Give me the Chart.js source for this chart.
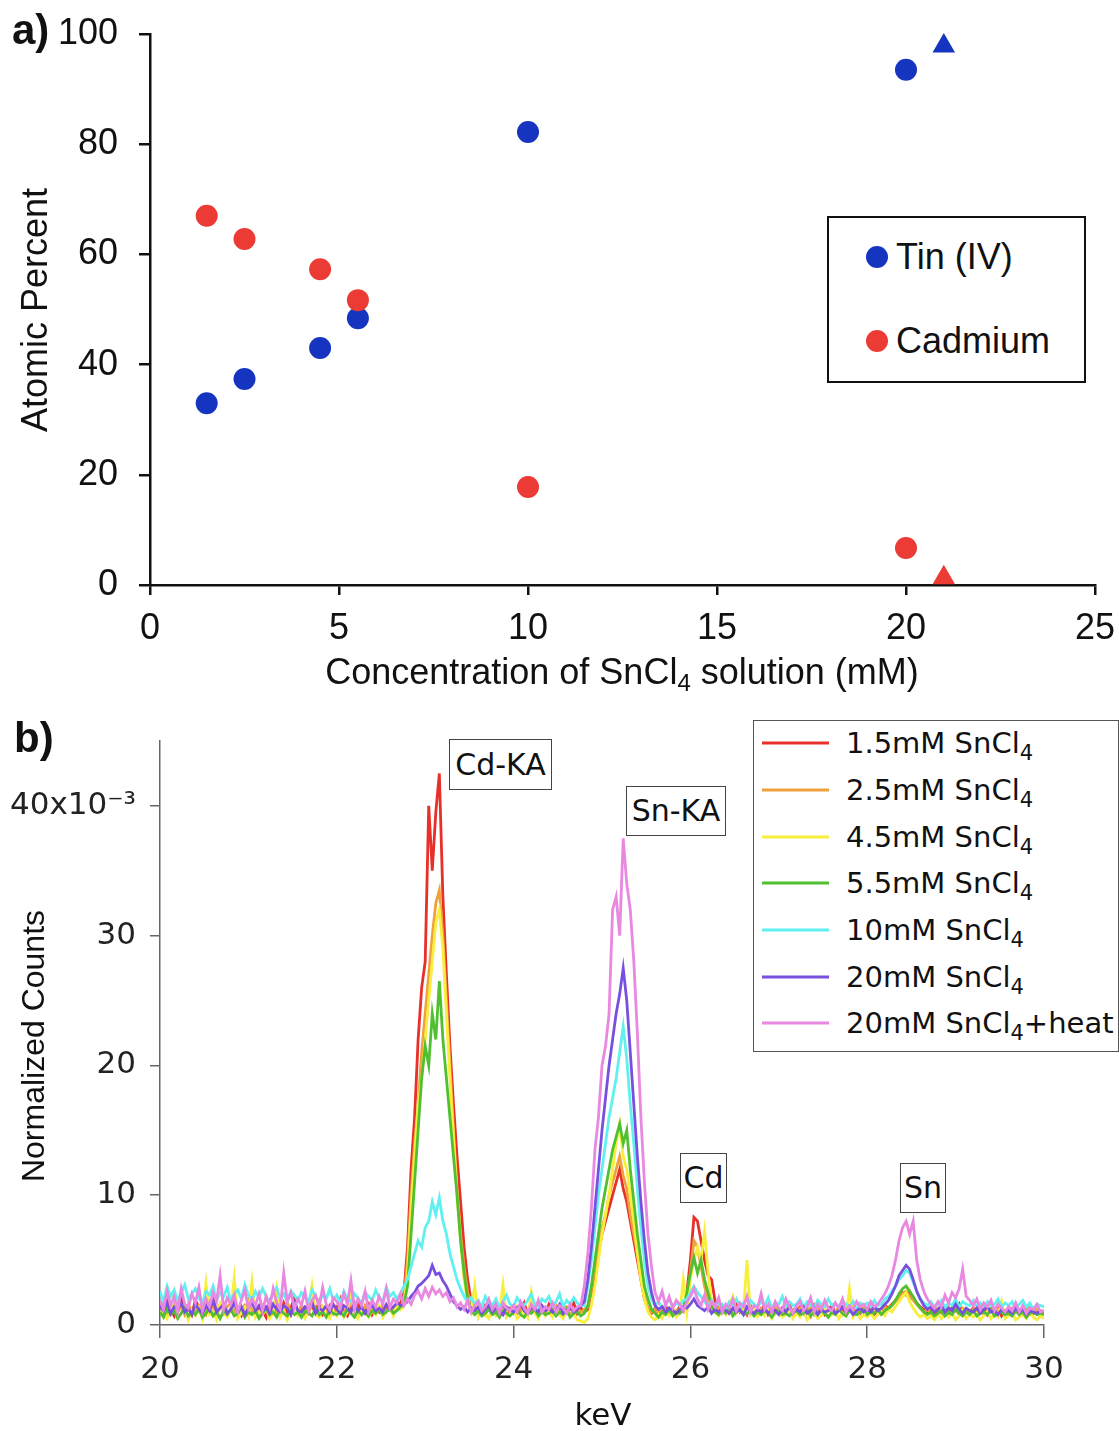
<!DOCTYPE html>
<html>
<head>
<meta charset="utf-8">
<title>SnCl4 films: composition and EDX spectra</title>
<script src="https://cdn.jsdelivr.net/npm/chart.js@4.4.1/dist/chart.umd.min.js"></script>
<style>
  html, body { margin: 0; padding: 0; background: #fff; overflow: hidden; }
  #figure { position: relative; width: 1119px; height: 1431px; overflow: hidden; background: #fff; }
  #figure canvas { position: absolute; left: 0; }
  .txt { position: absolute; white-space: nowrap; line-height: 1; color: #111; }
  .fa { font-family: 'Liberation Sans', Arial, sans-serif; }
  .fb { font-family: 'DejaVu Sans', sans-serif; }
  .mid { transform: translate(-50%, -50%); }
  .midY { transform: translateY(-50%); }
  .vert { transform: translate(-50%, -50%) rotate(-90deg); }
  .sub { position: relative; }
  .box { position: absolute; box-sizing: border-box; background: #fff; }
  .dot { position: absolute; width: 22px; height: 22px; border-radius: 50%; transform: translate(-50%, -50%); }
  .swatch { position: absolute; height: 3px; width: 67px; transform: translateY(-50%); }
</style>
</head>
<body>
<div id="figure">
  <canvas id="compChart" width="1119" height="700" style="top:0"></canvas>
  <canvas id="spectraChart" width="1119" height="731" style="top:700px"></canvas>

  <!-- panel a labels -->
  <div class="txt fa" style="left:12px; top:9px; font-size:42px; font-weight:bold;">a)</div>
  <div class="txt fa vert" style="left:35px; top:310px; font-size:36px;">Atomic Percent</div>
  <div class="txt fa mid" style="left:622px; top:672px; font-size:36px;">Concentration of SnCl<span class="sub" style="font-size:24px; top:7px;">4</span> solution (mM)</div>
  <div class="box" style="left:827px; top:216px; width:259px; height:167px; border:2.5px solid #111;"></div>

  <!-- panel b labels -->
  <div class="txt fa" style="left:14px; top:717px; font-size:42px; font-weight:bold;">b)</div>
  <div class="txt fa vert" style="left:33px; top:1046px; font-size:32px;">Normalized Counts</div>
  <div class="txt fb mid" style="left:603px; top:1414px; font-size:31px;">keV</div>
  <div class="box" style="left:753px; top:720px; width:366px; height:332px; border:1.5px solid #555;"></div>
</div>

<script>
// ---- panel a: film composition vs. SnCl4 concentration ----
const concentration = [1.5, 2.5, 4.5, 5.5, 10, 20];
const tinPercent = [33.0, 37.4, 43.0, 48.4, 82.2, 93.5];
const cadmiumPercent = [67.0, 62.8, 57.3, 51.7, 17.8, 6.7];
const heatedConcentration = [21];
const heatedTinPercent = [97.8];
const heatedCadmiumPercent = [1.3];
const compositionTicksX = [0, 5, 10, 15, 20, 25];
const compositionTicksY = [0, 20, 40, 60, 80, 100];

// ---- panel b: EDX spectra, one channel every 0.04 keV from 20 keV ----
const energyStart = 20;
const energyStep = 0.04;

const spectrum15 = [
  1.6,0.9,1.8,1.2,0.7,1.5,2.1,1.0,1.3,0.8,
  1.9,1.4,0.6,1.7,1.1,2.2,0.9,1.3,1.6,0.8,
  1.2,1.9,1.0,0.7,1.5,1.3,2.0,0.9,1.4,1.1,
  0.6,1.8,1.2,1.5,0.8,1.7,1.0,1.3,2.1,0.9,
  1.2,0.7,1.6,1.4,1.0,1.8,0.8,1.1,1.5,0.9,
  1.3,2.0,1.0,0.7,1.4,1.2,1.7,0.9,1.1,1.6,
  0.8,1.3,1.0,1.5,1.2,1.4,1.1,1.8,1.6,2.5,
  6.0,12.0,16.0,22.0,26.0,28.0,40.0,35.0,39.5,42.5,
  33.0,27.0,21.5,17.0,13.0,9.5,6.0,3.5,1.8,1.4,
  1.1,0.8,1.5,1.2,0.9,1.6,1.0,1.3,0.7,1.2,
  1.5,0.9,1.1,1.7,0.8,1.3,1.0,1.4,1.2,0.9,
  1.6,1.1,0.8,1.3,1.5,1.0,1.2,1.7,0.9,1.3,
  1.0,1.2,2.5,4.0,5.5,7.0,8.0,9.0,10.0,11.0,
  12.0,10.5,9.5,8.0,6.5,5.0,3.5,2.0,1.2,0.9,
  1.3,0.8,1.1,1.5,0.9,1.2,1.0,1.4,1.2,2.5,
  5.0,8.3,8.0,6.5,5.0,3.8,3.5,1.8,1.2,1.0,
  1.4,0.9,1.2,1.6,1.0,1.3,0.8,1.5,1.1,0.9,
  1.2,1.5,0.8,1.1,1.4,0.9,1.3,1.0,1.6,0.8,
  1.1,1.4,0.9,1.2,0.7,1.5,1.0,1.3,0.8,1.2,
  1.5,0.9,1.1,1.3,0.8,1.4,1.0,1.2,0.9,1.3,
  1.0,1.4,0.8,1.2,1.1,1.5,1.3,1.6,1.9,2.2,
  2.5,2.3,2.6,2.0,1.7,1.4,1.2,0.9,1.1,0.8,
  1.2,1.0,1.4,0.9,1.3,1.1,1.6,0.8,1.2,1.0,
  1.3,0.9,1.1,1.4,0.8,1.2,1.0,1.3,0.7,1.1,
  1.2,0.9,1.4,1.0,0.8,1.3,1.1,0.9,1.2,1.0,
  1.1
];

const spectrum25 = [
  1.3,1.7,0.9,1.2,1.9,1.0,1.4,0.8,1.6,1.1,
  1.0,1.5,1.2,0.8,1.8,1.3,1.0,1.6,0.9,1.4,
  1.7,1.1,0.8,1.4,1.2,1.9,1.0,1.3,0.7,1.5,
  1.2,1.0,1.6,0.9,1.4,1.1,1.8,0.8,1.3,1.0,
  1.5,1.2,0.9,1.7,1.1,1.0,1.4,1.2,0.8,1.6,
  1.1,1.4,0.9,1.3,1.6,1.0,1.2,0.8,1.5,1.1,
  1.3,0.9,1.2,1.6,1.0,1.4,1.2,1.5,1.3,2.0,
  5.0,10.0,14.0,17.0,21.0,24.0,27.0,30.0,32.5,33.5,
  30.0,25.0,20.0,15.0,10.5,7.0,4.5,2.5,1.5,1.2,
  1.0,1.3,0.8,1.4,1.1,0.9,1.5,1.2,1.0,1.3,
  0.9,1.4,1.1,1.2,0.8,1.5,1.0,1.3,1.1,0.9,
  1.3,1.0,1.5,0.9,1.2,1.4,0.8,1.1,1.3,1.0,
  1.2,1.4,2.8,4.5,6.0,7.5,8.5,10.0,11.0,12.0,
  13.0,11.5,10.5,8.5,7.0,5.5,3.8,2.2,1.3,1.0,
  1.2,0.9,1.4,1.0,1.3,0.8,1.1,1.2,1.0,2.0,
  4.0,6.5,6.0,4.5,3.0,2.0,1.2,1.0,1.3,0.9,
  1.1,1.4,0.8,1.2,1.0,1.5,0.9,1.3,1.1,0.8,
  1.3,1.0,1.2,0.9,1.5,1.1,0.8,1.4,1.0,1.2,
  0.9,1.3,1.1,1.0,1.4,0.8,1.2,1.5,0.9,1.1,
  1.2,1.0,1.4,0.8,1.1,1.3,0.9,1.2,1.0,1.4,
  1.1,0.9,1.3,1.2,1.0,1.4,1.2,1.5,1.8,2.1,
  2.4,2.6,2.2,1.9,1.6,1.3,1.0,1.2,0.9,1.1,
  1.3,0.9,1.1,1.4,1.0,1.2,0.8,1.3,1.1,0.9,
  1.2,1.0,1.4,0.8,1.1,1.3,0.9,1.2,1.0,1.1,
  0.9,1.3,1.0,1.2,0.8,1.1,1.4,1.0,1.2,0.9,
  1.0
];

const spectrum45 = [
  0.8,1.2,0.5,1.0,2.4,0.6,0.9,1.5,0.4,1.1,
  0.7,1.3,0.5,3.2,0.8,1.0,0.4,1.6,0.9,0.6,
  1.2,3.6,0.5,0.9,1.4,0.7,3.3,0.6,1.0,0.8,
  1.3,0.5,0.9,2.8,0.6,1.1,0.4,1.0,1.5,0.7,
  0.9,0.5,1.2,3.0,0.8,0.6,1.4,0.9,0.5,1.1,
  0.7,1.3,0.6,1.0,2.6,0.8,0.5,1.2,0.9,0.6,
  1.1,0.8,1.5,0.6,1.0,1.3,0.7,1.6,1.2,1.5,
  4.0,9.0,13.0,17.0,19.0,22.0,25.0,28.0,31.0,32.0,
  29.0,24.0,19.0,14.5,10.0,6.5,3.5,1.8,1.0,3.0,
  0.6,1.2,0.8,0.5,1.4,0.7,1.0,3.1,0.6,0.9,
  1.3,0.5,0.8,1.1,0.6,2.5,0.9,0.5,1.2,0.7,
  1.0,0.6,1.3,0.8,0.5,1.1,0.7,0.9,0.4,0.3,
  0.2,0.5,1.5,3.0,5.0,7.0,8.5,10.0,12.0,14.0,
  15.5,13.0,12.0,10.0,8.0,5.5,3.5,2.0,1.0,0.6,
  0.4,0.8,0.5,1.1,0.7,1.3,0.6,0.9,3.5,1.0,
  3.5,5.0,6.0,5.0,7.2,4.0,1.8,1.0,0.7,1.2,
  0.8,1.5,2.2,0.9,1.3,1.0,5.0,0.8,1.2,0.6,
  1.0,0.7,1.3,0.5,0.9,1.1,0.6,0.8,1.2,0.5,
  0.9,0.6,1.1,0.4,0.8,1.0,0.5,0.7,1.2,0.6,
  0.8,1.0,0.5,0.9,0.7,2.8,0.6,1.0,0.5,0.8,
  0.6,0.9,0.5,0.8,1.0,0.7,1.2,1.0,1.4,1.8,
  2.2,2.5,1.8,1.3,0.9,0.6,0.8,0.5,0.7,0.4,
  0.8,0.5,1.0,0.6,0.9,0.4,0.7,1.1,0.5,0.8,
  0.6,0.9,0.4,0.7,1.0,0.5,0.8,0.6,1.8,0.5,
  0.7,0.9,0.4,0.6,0.8,0.5,0.9,0.6,0.4,0.7,
  0.5
];

const spectrum55 = [
  1.0,0.6,1.3,0.8,1.1,0.5,0.9,1.4,0.7,1.0,
  0.8,1.2,0.6,0.9,1.3,0.7,1.0,0.5,1.1,0.8,
  1.2,0.7,0.9,1.4,0.6,1.0,0.8,1.1,0.5,0.9,
  1.3,0.8,1.0,0.6,1.2,0.9,0.7,1.1,0.8,1.0,
  0.6,1.1,0.9,0.7,1.3,0.8,1.0,0.6,1.2,0.9,
  0.8,1.0,0.7,1.2,0.9,0.6,1.1,0.8,1.0,0.7,
  1.1,0.9,1.2,0.8,1.0,1.3,0.9,1.1,1.4,1.6,
  3.0,7.0,11.0,15.0,19.0,21.5,20.0,24.0,22.0,26.5,
  22.0,19.0,16.0,13.0,10.0,6.5,4.0,2.0,1.1,0.8,
  1.1,0.7,0.9,1.2,0.8,1.0,0.6,1.1,0.9,0.7,
  1.0,1.3,0.8,0.6,1.1,0.9,1.2,0.7,1.0,0.8,
  0.9,1.1,0.7,1.0,0.8,1.2,0.6,0.9,1.0,0.7,
  0.9,1.5,3.0,5.0,7.0,9.0,10.5,12.0,13.5,14.5,
  15.5,14.0,15.0,12.0,9.5,7.0,5.0,3.0,2.0,1.2,
  0.9,0.6,1.0,0.8,1.2,0.7,1.0,0.9,1.2,2.5,
  4.0,5.2,4.0,5.0,3.5,2.5,1.5,1.0,0.8,1.1,
  0.9,1.3,0.7,1.0,1.2,0.8,0.9,1.1,0.7,1.0,
  0.8,1.1,0.9,0.6,1.0,1.2,0.8,0.9,0.7,1.0,
  1.1,0.8,0.9,1.2,0.7,1.0,0.8,1.1,0.9,0.6,
  1.0,0.8,1.2,0.9,0.7,1.1,0.9,0.8,1.0,1.2,
  0.8,1.0,0.9,1.2,0.8,1.1,1.3,1.5,1.9,2.4,
  2.8,3.0,2.6,2.2,1.7,1.3,1.0,0.8,1.0,0.7,
  0.9,1.1,0.7,1.0,0.8,1.2,0.9,0.7,1.0,0.8,
  1.1,0.7,0.9,1.0,0.8,1.2,0.7,0.9,1.0,0.8,
  0.9,0.7,1.1,0.8,1.0,0.6,0.9,1.0,0.8,0.9,
  0.8
];

const spectrum10 = [
  2.6,1.8,3.0,2.2,2.7,1.9,2.5,3.1,2.0,2.4,
  2.8,2.1,1.7,2.6,2.3,3.0,1.9,2.5,2.2,2.9,
  1.8,2.4,2.7,2.0,3.1,2.3,1.9,2.6,2.1,2.8,
  2.2,1.7,2.5,2.9,2.0,2.4,1.8,2.6,2.3,1.9,
  2.5,2.1,1.8,2.7,2.2,1.6,2.4,2.0,2.8,1.9,
  2.3,1.7,2.6,2.0,1.8,2.4,2.1,1.6,2.5,2.2,
  1.9,2.7,2.1,1.8,2.9,2.2,2.5,2.0,2.4,3.0,
  3.5,4.5,5.5,6.5,6.0,7.5,8.0,9.5,8.5,9.8,
  8.0,7.0,5.5,4.5,3.5,2.8,2.2,1.8,2.1,1.6,
  1.9,1.4,2.2,1.7,1.5,2.0,1.3,1.8,2.3,1.6,
  1.4,2.1,1.7,1.5,1.9,2.4,1.6,1.3,2.0,1.8,
  2.2,1.5,1.8,2.4,1.4,1.9,1.6,2.1,1.7,1.5,
  1.5,3.0,5.0,7.5,10.0,12.0,14.0,16.0,17.5,19.0,
  21.0,23.0,20.5,17.0,14.0,10.5,7.5,5.0,3.0,2.0,
  1.5,1.8,1.3,1.6,2.0,1.4,1.7,1.5,1.9,2.0,
  2.5,3.0,2.5,2.2,1.8,1.5,1.9,1.4,1.7,1.6,
  1.3,1.8,1.5,2.0,1.4,1.7,1.2,1.9,1.6,1.4,
  1.8,1.5,2.1,1.3,1.7,1.6,2.2,1.4,1.8,1.5,
  1.6,2.0,1.4,1.8,1.5,1.3,1.9,1.6,1.4,2.0,
  1.5,1.7,1.3,1.9,1.6,1.4,1.8,1.2,1.7,1.5,
  1.7,1.4,1.9,1.5,1.6,2.0,2.2,2.6,3.0,3.5,
  3.8,4.2,4.0,3.3,2.6,2.0,1.7,1.5,1.8,1.4,
  1.6,1.9,1.3,1.7,1.5,2.0,1.4,1.8,1.6,1.5,
  1.9,1.4,1.7,1.3,1.8,1.5,1.6,2.0,1.4,1.7,
  1.5,1.8,1.3,1.6,1.9,1.4,1.7,1.2,1.6,1.5,
  1.4
];

const spectrum20 = [
  1.5,1.1,1.8,0.9,1.4,1.2,1.7,1.0,1.3,0.8,
  1.6,1.2,0.9,1.5,1.1,1.9,1.0,1.3,1.6,0.9,
  1.2,1.7,1.0,1.4,0.8,1.3,1.8,1.1,1.5,1.0,
  1.4,0.9,1.6,1.2,1.0,1.5,1.3,0.8,1.7,1.1,
  1.0,1.4,1.2,1.8,0.9,1.3,1.1,1.5,1.0,1.6,
  1.2,0.9,1.5,1.3,1.0,1.7,1.1,1.4,0.9,1.3,
  1.5,1.1,1.3,1.0,1.6,1.2,1.4,1.7,1.5,1.6,
  1.8,2.2,2.5,3.0,3.2,3.5,3.8,4.6,3.9,4.0,
  3.4,3.0,2.4,1.8,1.5,1.2,1.4,1.0,1.3,1.1,
  1.4,0.9,1.2,1.5,1.0,1.3,1.1,0.8,1.4,1.2,
  1.0,1.3,1.6,1.1,0.9,1.4,1.2,1.0,1.5,1.1,
  1.3,1.0,1.2,1.6,0.9,1.1,1.4,1.0,1.2,1.5,
  1.8,3.5,6.0,9.0,12.0,15.0,17.5,20.0,22.0,24.0,
  25.5,27.5,25.0,21.0,17.0,13.0,9.5,6.5,4.0,2.5,
  1.5,1.2,1.4,1.0,1.3,1.1,0.9,1.2,1.4,1.3,
  1.6,2.0,1.5,1.3,1.1,1.4,0.9,1.2,1.0,1.3,
  1.1,0.9,1.3,1.0,1.2,0.8,1.4,1.1,0.9,1.2,
  1.0,1.3,0.9,1.2,1.1,0.8,1.3,1.0,1.4,0.9,
  1.2,1.0,1.4,0.9,1.1,1.3,0.8,1.2,1.0,1.1,
  1.3,0.9,1.1,1.4,1.0,1.2,0.8,1.1,1.3,1.0,
  1.2,1.0,1.4,1.1,1.3,1.6,1.9,2.4,3.0,3.8,
  4.2,4.6,4.3,3.5,2.6,2.0,1.5,1.2,1.4,1.0,
  1.2,1.5,1.0,1.3,1.1,1.6,1.2,0.9,1.3,1.1,
  1.0,1.3,0.9,1.2,1.4,1.0,1.1,0.8,1.2,1.0,
  1.1,0.9,1.3,1.0,1.2,0.8,1.1,1.0,0.9,1.1,
  1.0
];

const spectrum20Heat = [
  1.9,1.2,2.6,1.5,2.2,1.0,2.8,1.6,1.3,2.4,
  1.7,2.9,1.1,2.0,1.4,2.5,1.8,3.8,1.2,2.1,
  1.6,2.3,1.0,1.9,2.7,1.3,2.0,1.5,2.4,1.1,
  2.2,1.4,2.8,1.7,1.2,4.0,1.8,2.5,1.3,2.0,
  1.5,2.6,1.1,1.9,2.3,1.4,2.9,1.6,1.2,2.1,
  1.8,1.3,2.4,1.6,3.4,1.2,2.0,1.5,2.6,1.1,
  1.9,1.4,2.2,1.6,2.8,1.3,2.0,1.7,2.4,1.5,
  2.0,1.6,2.3,2.6,2.0,2.8,2.2,2.9,2.4,2.7,
  2.2,2.5,1.8,2.1,1.4,1.7,1.2,1.9,1.0,1.5,
  1.8,1.1,1.4,2.0,1.2,1.6,0.9,1.7,1.3,1.1,
  1.5,1.0,1.8,1.3,0.9,1.6,1.2,1.9,1.0,1.4,
  1.2,1.7,1.0,1.5,1.3,0.9,1.6,1.1,1.4,1.5,
  3.0,5.5,9.0,13.5,16.0,20.0,21.5,24.0,32.0,33.0,
  30.0,37.5,34.0,32.0,28.0,22.5,16.0,11.0,7.0,4.5,
  2.5,1.8,2.6,1.5,2.2,1.3,1.9,1.6,1.1,1.8,
  2.2,2.8,2.0,1.5,2.3,1.2,1.8,1.4,2.1,1.0,
  1.6,1.3,2.0,1.1,1.7,1.4,2.2,1.0,1.5,1.3,
  2.4,1.2,1.6,1.0,1.8,1.3,1.1,2.0,1.4,0.9,
  1.5,1.8,1.1,1.4,2.1,1.0,1.6,1.2,1.9,1.3,
  1.1,1.7,1.3,2.0,1.0,1.5,1.2,1.8,1.4,1.6,
  1.2,1.8,1.4,1.6,2.0,2.4,3.0,3.8,5.0,6.5,
  7.5,8.0,7.0,8.0,5.0,3.5,2.6,2.0,1.6,1.3,
  1.8,1.4,2.3,1.7,2.5,2.1,2.8,4.3,2.2,1.9,
  1.5,2.0,1.2,1.7,1.4,1.9,1.1,1.6,1.3,1.0,
  1.4,1.1,1.7,1.0,1.5,0.9,1.3,1.2,1.6,1.0,
  1.1
];

const spectra = [spectrum15, spectrum25, spectrum45, spectrum55, spectrum10, spectrum20, spectrum20Heat];
const spectrumConc = ['1.5mM', '2.5mM', '4.5mM', '5.5mM', '10mM', '20mM', '20mM'];
const spectrumSuffix = ['', '', '', '', '', '', '+heat'];
const spectrumColors = ['#e8302a', '#f0a03c', '#f8ee3c', '#50c030', '#60f0f0', '#7850e0', '#e888e0'];
const energyTicks = [20, 22, 24, 26, 28, 30];
const countTicks = [0, 10, 20, 30, 40];

// peak tags: text, box left/top/width/height
const peakTags = [
  ['Cd-KA', 449, 739, 103, 51],
  ['Sn-KA', 626, 786, 100, 50],
  ['Cd', 680, 1153, 47, 50],
  ['Sn', 900, 1163, 46, 50]
];

const blue = '#1535c0';
const red = '#ec3a35';
const fontA = { family: "'Liberation Sans', Arial, sans-serif", size: 36 };
const fontB = { family: "'DejaVu Sans', sans-serif", size: 31 };
const toPoints = (xs, ys) => xs.map((x, i) => ({ x: x, y: ys[i] }));
const energies = spectrum15.map((_, i) => +(energyStart + i * energyStep).toFixed(2));

const figure = document.getElementById('figure');
const addEl = (html) => { figure.insertAdjacentHTML('beforeend', html); };

// fixed axis box, no label overhang padding (chart area comes from layout.padding only)
const fixSize = (w, h) => (s) => {
  if (w !== null) s.width = w;
  if (h !== null) s.height = h;
  s.paddingTop = 0; s.paddingBottom = 0; s.paddingLeft = 0; s.paddingRight = 0;
};

// panel a
new Chart(document.getElementById('compChart'), {
  type: 'scatter',
  data: {
    datasets: [
      { label: 'Tin (IV)', data: toPoints(concentration, tinPercent), pointStyle: 'circle',
        pointRadius: 11, backgroundColor: blue, borderWidth: 0, clip: false, order: 1 },
      { label: 'Cadmium', data: toPoints(concentration, cadmiumPercent), pointStyle: 'circle',
        pointRadius: 11, backgroundColor: red, borderWidth: 0, clip: false, order: 0 },
      { label: 'Tin (IV), heated', data: toPoints(heatedConcentration, heatedTinPercent), pointStyle: 'triangle',
        pointRadius: 13, backgroundColor: blue, borderWidth: 0, clip: false, order: 1 },
      { label: 'Cadmium, heated', data: toPoints(heatedConcentration, heatedCadmiumPercent), pointStyle: 'triangle',
        pointRadius: 13, backgroundColor: red, borderWidth: 0, clip: false, order: 0 }
    ]
  },
  options: {
    responsive: false,
    animation: false,
    devicePixelRatio: 1,
    layout: { padding: { top: 34, right: 24, bottom: 0, left: 0 } },
    plugins: { legend: { display: false }, tooltip: { enabled: false } },
    scales: {
      x: {
        type: 'linear', min: 0, max: 25,
        afterBuildTicks: (s) => { s.ticks = compositionTicksX.map(v => ({ value: v })); },
        ticks: { color: '#111', font: fontA, padding: 12, maxRotation: 0 },
        grid: { drawOnChartArea: false, tickLength: 10, color: '#111', lineWidth: 2.5 },
        border: { color: '#111', width: 2.5 },
        afterFit: fixSize(null, 115)
      },
      y: {
        type: 'linear', min: 0, max: 100,
        afterBuildTicks: (s) => { s.ticks = compositionTicksY.map(v => ({ value: v })); },
        ticks: { color: '#111', font: fontA, padding: 21 },
        grid: { drawOnChartArea: false, tickLength: 11, color: '#111', lineWidth: 2.5 },
        border: { color: '#111', width: 2.5 },
        afterFit: fixSize(150, null)
      }
    }
  }
});

// legend for panel a
[[blue, 'Tin (IV)', 257], [red, 'Cadmium', 341]].forEach(([c, name, y]) => {
  addEl(`<div class="dot" style="left:877px; top:${y}px; background:${c};"></div>`);
  addEl(`<div class="txt fa midY" style="left:896px; top:${y}px; font-size:36px;">${name}</div>`);
});

// panel b
new Chart(document.getElementById('spectraChart'), {
  type: 'line',
  data: {
    datasets: spectra.map((vals, i) => ({
      label: `${spectrumConc[i]} SnCl4${spectrumSuffix[i]}`,
      data: toPoints(energies, vals),
      borderColor: spectrumColors[i],
      borderWidth: 2.8,
      pointRadius: 0,
      fill: false,
      tension: 0,
      order: spectra.length - i   // later traces on top
    }))
  },
  options: {
    responsive: false,
    animation: false,
    devicePixelRatio: 1,
    layout: { padding: { top: 41, right: 75, bottom: 0, left: 0 } },
    plugins: { legend: { display: false }, tooltip: { enabled: false } },
    scales: {
      x: {
        type: 'linear', min: 20, max: 30,
        afterBuildTicks: (s) => { s.ticks = energyTicks.map(v => ({ value: v })); },
        ticks: { color: '#222', font: fontB, padding: 13, maxRotation: 0 },
        grid: { drawOnChartArea: false, tickLength: 13, color: '#666', lineWidth: 1.5 },
        border: { color: '#666', width: 1.5 },
        afterFit: fixSize(null, 106)
      },
      y: {
        type: 'linear', min: 0, max: 45,
        afterBuildTicks: (s) => { s.ticks = countTicks.map(v => ({ value: v })); },
        ticks: { color: '#222', font: fontB, padding: 14,
                 callback: (v) => v === 40 ? '40x10\u207B\u00B3' : String(v) },
        grid: { drawOnChartArea: false, tickLength: 10, color: '#666', lineWidth: 1.5 },
        border: { color: '#666', width: 1.5 },
        afterFit: fixSize(160, null)
      }
    }
  }
});

// legend for panel b
const rowY = [743, 790, 837, 883, 930, 977, 1023];
spectra.forEach((_, i) => {
  addEl(`<div class="swatch" style="left:762px; top:${rowY[i]}px; background:${spectrumColors[i]};"></div>`);
  addEl(`<div class="txt fb midY" style="left:846px; top:${rowY[i]}px; font-size:29px;">${spectrumConc[i]} SnCl<span class="sub" style="font-size:21px; top:7px;">4</span>${spectrumSuffix[i]}</div>`);
});

// peak tags
peakTags.forEach(([t, l, tp, w, h]) => {
  addEl(`<div class="box" style="left:${l}px; top:${tp}px; width:${w}px; height:${h}px; border:1.5px solid #444;"></div>`);
  addEl(`<div class="txt fb mid" style="left:${l + w / 2}px; top:${tp + h / 2}px; font-size:30px;">${t}</div>`);
});
</script>
</body>
</html>
